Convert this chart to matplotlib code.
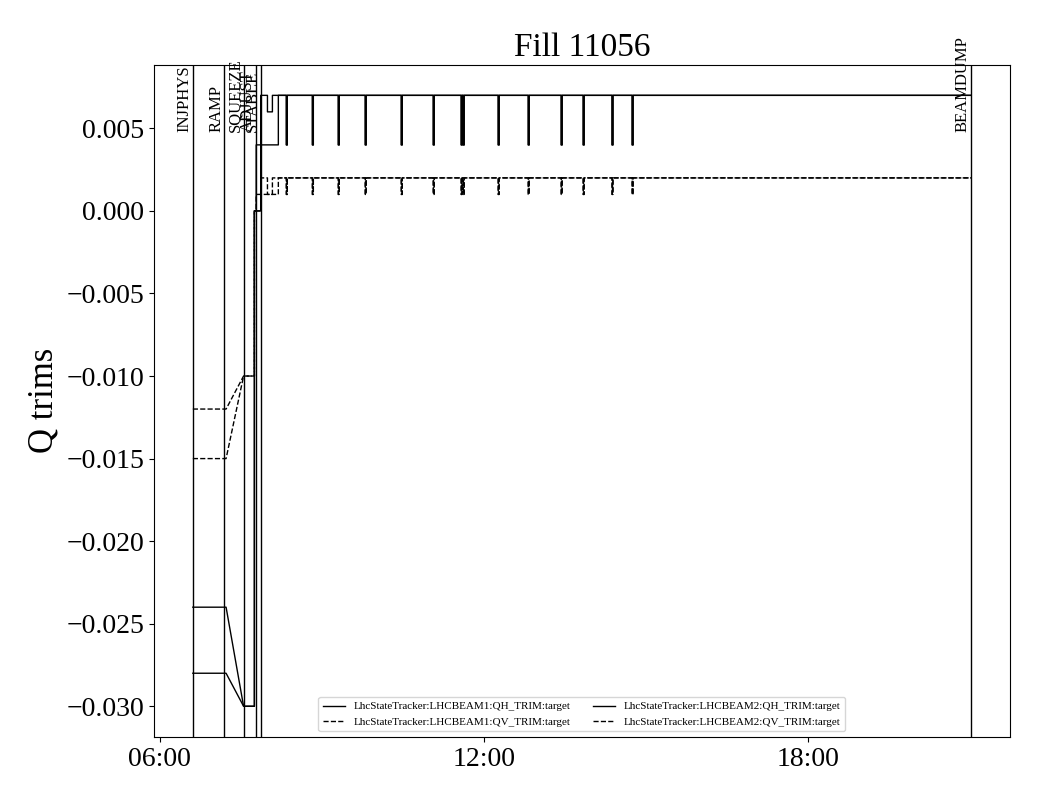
import datetime as dt
import matplotlib
matplotlib.use("Agg")
import matplotlib.pyplot as plt
import matplotlib.dates as mdates

plt.rcParams['font.family'] = ['Liberation Serif', 'DejaVu Serif']

DAY = "2025-08-02"
FILL = 11056

# смены режимов машины
MODE_NAMES = ["INJPHYS", "RAMP", "SQUEEZE", "ADJUST", "STABLE", "BEAMDUMP"]
MODE_TIMES = ["06:36:40", "07:11:45", "07:33:00", "07:47:00", "07:51:50", "21:00:20"]

# моменты кратковременных сбросов трима (общие для обоих пучков)
SPIKE_TIMES = ["08:20:30", "08:49:25", "09:18:10", "09:48:05", "10:28:05",
               "11:03:35", "11:34:35", "11:36:50", "12:15:40", "12:49:00",
               "13:25:35", "13:50:00", "14:22:00", "14:44:20"]

# опорные точки каждого сигнала (до STABLE)
B1_QH_T = ["06:36:40", "07:13:35", "07:33:00", "07:45:00", "07:45:00", "07:52:00", "07:52:00",
           "07:59:30", "07:59:30", "08:05:00", "08:05:00"]
B1_QH_V = [-0.028, -0.028, -0.030, -0.030, 0.000, 0.000, 0.007, 0.007, 0.006, 0.006, 0.007]
B1_QV_T = B1_QH_T
B1_QV_V = [-0.015, -0.015, -0.010, -0.010, 0.000, 0.000, 0.002, 0.002, 0.001, 0.001, 0.002]

B2_QH_T = ["06:36:40", "07:13:35", "07:33:00", "07:45:00", "07:45:00", "07:47:00", "07:47:00",
           "08:11:35", "08:11:35"]
B2_QH_V = [-0.024, -0.024, -0.030, -0.030, 0.000, 0.000, 0.004, 0.004, 0.007]
B2_QV_T = B2_QH_T
B2_QV_V = [-0.012, -0.012, -0.010, -0.010, 0.000, 0.000, 0.001, 0.001, 0.002]

QH_SPIKE_LOW = 0.004
QV_SPIKE_LOW = 0.001
END_TIME = "21:00:20"


def to_dt(s):
    return dt.datetime.strptime(DAY + " " + s, "%Y-%m-%d %H:%M:%S")


# дорисовка провалов после стабилизации
def BuildSeries(times, values, low):
    t = [to_dt(s) for s in times]
    v = list(values)
    high = v[-1]
    for s in SPIKE_TIMES:
        ts = to_dt(s)
        te = ts + dt.timedelta(minutes=1)
        t += [ts, ts, te, te]
        v += [high, low, low, high]
    t.append(to_dt(END_TIME))
    v.append(high)
    return t, v


series = [
    ("LhcStateTracker:LHCBEAM1:QH_TRIM:target", B1_QH_T, B1_QH_V, QH_SPIKE_LOW, "-"),
    ("LhcStateTracker:LHCBEAM1:QV_TRIM:target", B1_QV_T, B1_QV_V, QV_SPIKE_LOW, "--"),
    ("LhcStateTracker:LHCBEAM2:QH_TRIM:target", B2_QH_T, B2_QH_V, QH_SPIKE_LOW, "-"),
    ("LhcStateTracker:LHCBEAM2:QV_TRIM:target", B2_QV_T, B2_QV_V, QV_SPIKE_LOW, "--"),
]

fig = plt.figure(figsize=(10.4, 8), dpi=100)
ax = fig.add_axes([0.148, 0.079, 0.823, 0.840])

for label, tt, vv, low, ls in series:
    t, v = BuildSeries(tt, vv, low)
    ax.plot(t, v, color="black", linestyle=ls, linewidth=1, label=label)

for name, s in zip(MODE_NAMES, MODE_TIMES):
    ax.axvline(to_dt(s), color="black", linewidth=1)
    ax.text(to_dt(s), 0.9, name, rotation=90, ha="right", va="bottom",
            fontsize=12, transform=ax.get_xaxis_transform())

ax.xaxis.set_major_locator(mdates.HourLocator(byhour=[6, 12, 18]))
ax.xaxis.set_major_formatter(mdates.DateFormatter("%H:%M"))
ax.tick_params(labelsize=20)
ax.set_ylabel("Q trims", fontsize=25)
ax.set_title("Fill %d" % FILL, fontsize=24)
ax.legend(loc="lower center", ncol=2, fontsize=8)

fig.savefig("out.png")
